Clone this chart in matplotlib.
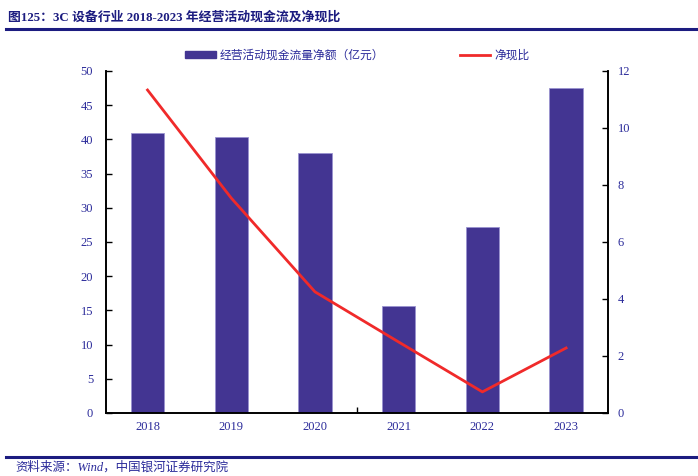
import matplotlib
matplotlib.use("Agg")
import matplotlib.pyplot as plt
from matplotlib.lines import Line2D
from matplotlib.patches import Patch

plt.rcParams['font.family'] = ['Noto Sans CJK SC', 'DejaVu Sans']

years = ['2018', '2019', '2020', '2021', '2022', '2023']
cash_flow = [40.9, 40.3, 38.0, 15.6, 27.2, 47.5]      # 经营活动现金流量净额（亿元）
net_cash_ratio = [11.33, 7.54, 4.25, 2.49, 0.74, 2.28]  # 净现比

bar_color = '#433592'
line_color = '#f02a2a'
text_color = '#2b2b9a'
navy = '#1c1c80'
serif_cjk = ['Liberation Serif', 'Noto Sans CJK SC']

fig = plt.figure(figsize=(6.98, 4.76), dpi=100)
ax = fig.add_axes([0.1514, 0.1324, 0.7196, 0.7186])
ax2 = ax.twinx()

x = list(range(len(years)))
ax.bar(x, cash_flow, width=0.4, color=bar_color, edgecolor='#9a93d0', linewidth=0.6, zorder=2)
ax2.plot(x, net_cash_ratio, color=line_color, linewidth=2, zorder=3)

ax.set_xlim(-0.5, 5.5)
ax.set_ylim(0, 50)
ax2.set_ylim(0, 12)
ax.set_yticks(range(0, 51, 5))
ax2.set_yticks(range(0, 13, 2))

ax.set_xticks(x)
ax.set_xticklabels(years)
ax.set_xticks([2.5], minor=True)
ax.tick_params(axis='x', which='major', length=0, pad=6)
ax.tick_params(axis='x', which='minor', length=4, direction='in', width=1)
ax.tick_params(axis='y', direction='in', length=4, width=1, pad=9)
ax2.tick_params(axis='y', direction='in', length=4, width=1, pad=7)

for a in (ax, ax2):
    a.spines['top'].set_visible(False)
    for s in ('left', 'right', 'bottom'):
        a.spines[s].set_linewidth(1.2)
    for lab in a.get_xticklabels() + a.get_yticklabels():
        lab.set_fontfamily('Liberation Serif')
        lab.set_fontsize(9)
        lab.set_color(text_color)

# legend
handles = [Patch(facecolor=bar_color, edgecolor=bar_color),
           Line2D([0], [0], color=line_color, linewidth=2)]
labels = ['经营活动现金流量净额（亿元）', '净现比']
leg = fig.legend(handles, labels, loc='center', bbox_to_anchor=(0.512, 0.884), ncol=2,
                 frameon=False, fontsize=8.5, columnspacing=6.4, handlelength=2.6,
                 handleheight=0.5, handletextpad=0.3)
for t in leg.get_texts():
    t.set_color(text_color)

# title and source
fig.text(0.012, 0.963, '图125：3C 设备行业 2018-2023 年经营活动现金流及净现比',
         fontsize=9.3, fontweight='bold', color=navy, va='center', ha='left',
         family=serif_cjk)
fig.add_artist(Line2D([0.009, 1.0], [0.939, 0.939], color=navy, linewidth=2.2))
fig.add_artist(Line2D([0.009, 1.0], [0.040, 0.040], color=navy, linewidth=2.2))
fig.text(0.022, 0.018, '资料来源：Wind，中国银河证券研究院', fontsize=9, style='italic',
         color=text_color, va='center', ha='left', family=serif_cjk)

fig.savefig('out.png', dpi=100)
